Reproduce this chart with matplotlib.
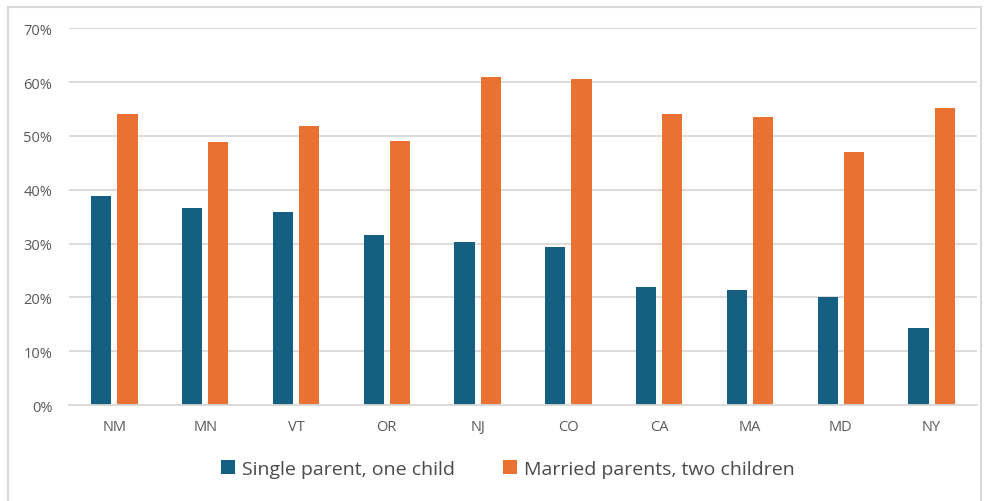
import matplotlib.pyplot as plt
import numpy as np
from matplotlib.ticker import PercentFormatter, MultipleLocator
from matplotlib.patches import Rectangle

states = ['NM', 'MN', 'VT', 'OR', 'NJ', 'CO', 'CA', 'MA', 'MD', 'NY']
single_one_child = [38.8, 36.7, 35.8, 31.6, 30.2, 29.4, 21.9, 21.3, 20.1, 14.4]
married_two_children = [54.0, 48.9, 51.9, 49.1, 61.0, 60.6, 54.0, 53.5, 47.0, 55.2]

blue = '#156082'
orange = '#E97132'
text_grey = '#595959'
grid_grey = '#D9D9D9'

plt.rcParams['font.family'] = ['Open Sans', 'DejaVu Sans']

fig = plt.figure(figsize=(9.84, 5.02), dpi=100)
ax = fig.add_axes([0.0701, 0.1912, 0.9228, 0.7504])

x = np.arange(len(states))
w = 0.223
off = 0.144
ax.bar(x - off, single_one_child, w, color=blue, label='Single parent, one child', zorder=3)
ax.bar(x + off, married_two_children, w, color=orange, label='Married parents, two children', zorder=3)

ax.set_xlim(-0.5, len(states) - 0.5)
ax.set_ylim(0, 70)
ax.yaxis.set_major_locator(MultipleLocator(10))
ax.yaxis.set_major_formatter(PercentFormatter(decimals=0))
ax.grid(axis='y', color=grid_grey, linewidth=1.3, zorder=0)
ax.set_xticks(x)
ax.set_xticklabels(states)

for s in ['top', 'right', 'left']:
    ax.spines[s].set_visible(False)
ax.spines['bottom'].set_color(grid_grey)
ax.spines['bottom'].set_linewidth(1.3)
ax.spines['bottom'].set_zorder(4)

ax.tick_params(axis='y', length=0, pad=12, labelsize=10.5, labelcolor=text_grey)
ax.tick_params(axis='x', length=0, pad=10, labelsize=10.5, labelcolor=text_grey)

fig.legend(loc='center', bbox_to_anchor=(0.516, 0.064), ncol=2, frameon=False,
           fontsize=14, labelcolor='#4a4a4a', handlelength=0.7, handleheight=0.7,
           handletextpad=0.35, columnspacing=2.5)

# light frame around the chart area
fig.patches.append(Rectangle((8 / 984, -0.1), 973 / 984, 1.1 - 8 / 502, transform=fig.transFigure,
                             fill=False, edgecolor=grid_grey, linewidth=1.5))

fig.savefig('out.png', dpi=100)
